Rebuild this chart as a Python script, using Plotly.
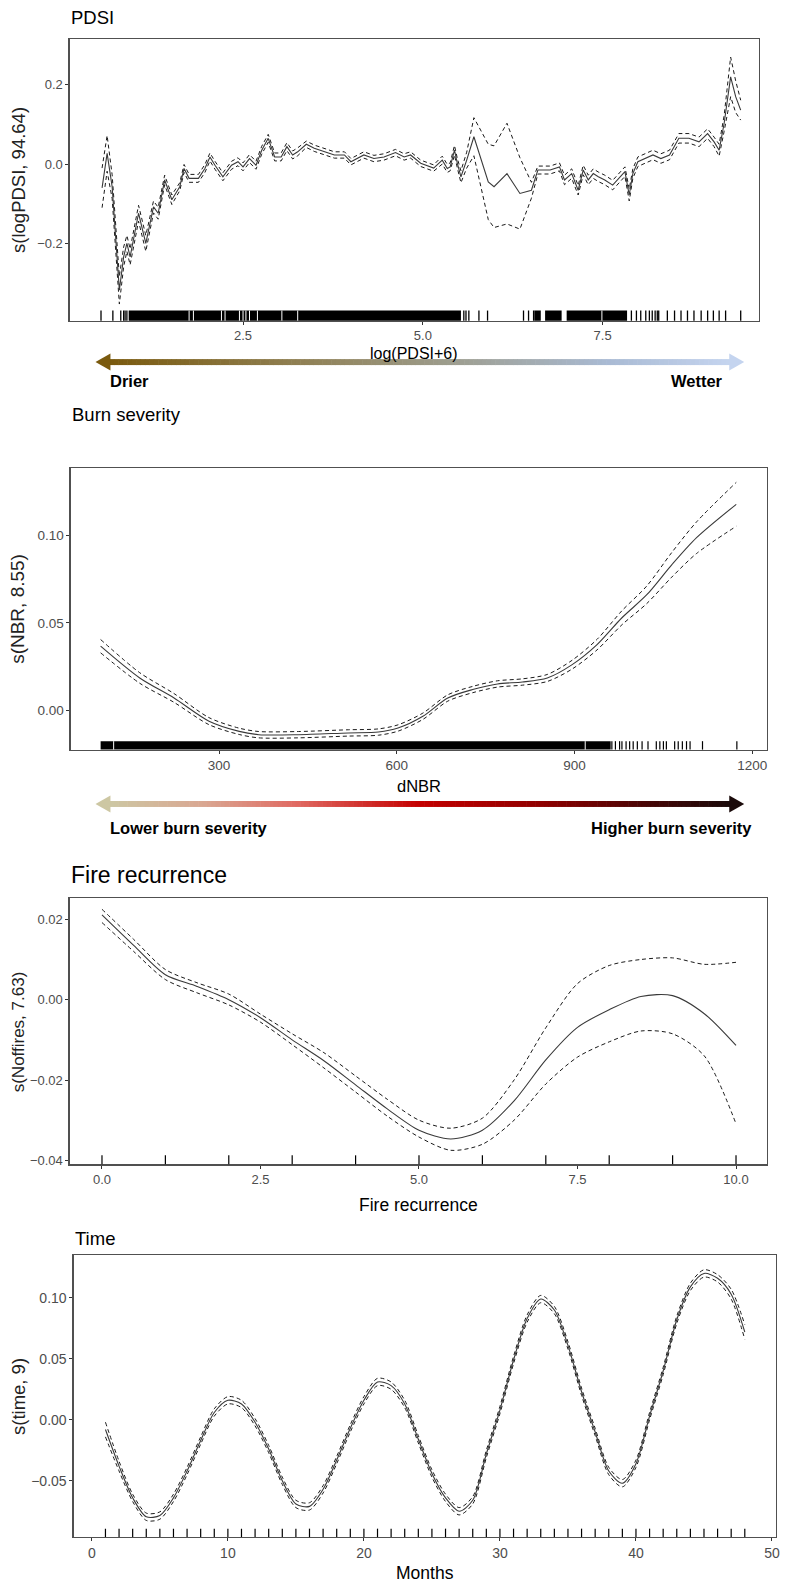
import plotly.graph_objects as go

W, H = 786, 1589

# ---------------- DATA ----------------
# Panel 1: PDSI
pdsi_x = [0.54, 0.61, 0.68, 0.72, 0.78, 0.84, 0.885, 0.93, 1.047, 1.148, 1.255, 1.32, 1.41, 1.51, 1.62,
          1.68, 1.75, 1.88, 1.97, 2.04, 2.11, 2.22, 2.34, 2.43, 2.50, 2.59, 2.68, 2.76, 2.85, 2.94,
          3.03, 3.11, 3.19, 3.26, 3.38, 3.49, 3.63, 3.77, 3.91, 4.00, 4.18, 4.32, 4.46, 4.62, 4.74,
          4.83, 4.97, 5.15, 5.27, 5.34, 5.38, 5.44, 5.48, 5.53, 5.61, 5.71, 5.91, 5.99, 6.17, 6.35,
          6.51, 6.60, 6.77, 6.90, 6.97, 7.07, 7.16, 7.23, 7.30, 7.37, 7.44, 7.53, 7.64, 7.74, 7.81,
          7.87, 7.92, 7.99, 8.10, 8.20, 8.31, 8.43, 8.56, 8.70, 8.84, 8.96, 9.05, 9.12, 9.19, 9.28,
          9.35, 9.42]
pdsi_fit = [-0.060, 0.027, -0.057, -0.166, -0.318, -0.234, -0.200, -0.234, -0.124, -0.200, -0.108, -0.124,
            -0.040, -0.090, -0.057, -0.011, -0.036, -0.036, -0.011, 0.018, -0.003, -0.032, -0.003, 0.006,
            -0.007, 0.014, -0.003, 0.035, 0.065, 0.018, 0.018, 0.044, 0.023, 0.031, 0.050, 0.040, 0.031,
            0.023, 0.023, 0.006, 0.023, 0.014, 0.018, 0.029, 0.018, 0.023, 0.002, -0.010, 0.010, -0.011,
            -0.007, 0.035, 0.002, -0.032, 0.010, 0.069, -0.045, -0.057, -0.024, -0.074, -0.066, -0.015,
            -0.015, -0.007, -0.040, -0.024, -0.066, -0.015, -0.040, -0.024, -0.032, -0.040, -0.053,
            -0.032, -0.019, -0.078, -0.024, 0.006, 0.014, 0.023, 0.014, 0.023, 0.065, 0.065, 0.056,
            0.077, 0.056, 0.035, 0.103, 0.220, 0.170, 0.136]
pdsi_ci = [0.050, 0.045, 0.030, 0.030, 0.035, 0.025, 0.020, 0.020, 0.020, 0.020, 0.015, 0.015, 0.012,
           0.012, 0.010, 0.010, 0.010, 0.010, 0.010, 0.010, 0.010, 0.010, 0.010, 0.010, 0.010, 0.010,
           0.010, 0.010, 0.010, 0.010, 0.010, 0.010, 0.010, 0.010, 0.008, 0.008, 0.008, 0.008, 0.008,
           0.008, 0.008, 0.008, 0.008, 0.008, 0.008, 0.008, 0.008, 0.008, 0.010, 0.010, 0.010, 0.012,
           0.012, 0.015, 0.020, 0.048, 0.095, 0.103, 0.127, 0.090, 0.020, 0.010, 0.010, 0.010, 0.012,
           0.012, 0.012, 0.012, 0.012, 0.012, 0.012, 0.012, 0.012, 0.012, 0.012, 0.015, 0.012, 0.012,
           0.012, 0.012, 0.012, 0.012, 0.012, 0.012, 0.012, 0.012, 0.012, 0.015, 0.020, 0.050, 0.040,
           0.025]
pdsi_rug_dense = [[0.91, 5.53], [6.55, 6.64], [6.70, 6.93], [7.00, 7.84]]
pdsi_rug_gaps = [1.75, 1.81, 2.20, 2.25, 2.45, 2.50, 2.54, 2.59, 2.70, 3.04, 3.26, 7.49]
pdsi_rug_ticks = [0.525, 0.69, 0.80, 0.84, 0.86, 0.885, 5.57, 5.60, 5.64, 5.78, 5.90, 6.40, 6.47, 6.54,
                  7.90, 7.97, 8.03, 8.10, 8.15, 8.19, 8.23, 8.26, 8.28, 8.40, 8.50, 8.59, 8.68, 8.77,
                  8.87, 8.96, 9.04, 9.12, 9.21, 9.42]

# Panel 2: Burn severity
nbr_x = [100, 166, 224, 283, 334, 367, 434, 518, 569, 602, 644, 686, 728, 770, 812, 854, 896, 938,
         980, 1022, 1064, 1106, 1173]
nbr_fit = [0.0367, 0.0186, 0.0072, -0.0060, -0.0118, -0.0137, -0.0137, -0.0127, -0.0122, -0.0099,
           -0.0032, 0.0072, 0.0120, 0.0152, 0.0163, 0.0186, 0.0262, 0.0376, 0.0529, 0.0660, 0.0830,
           0.0985, 0.1175]
nbr_ci = [0.0038, 0.0030, 0.0025, 0.0020, 0.0018, 0.0018, 0.0018, 0.0018, 0.0018, 0.0018, 0.0018,
          0.0018, 0.0018, 0.0018, 0.0018, 0.0020, 0.0025, 0.0030, 0.0040, 0.0050, 0.0070, 0.0090, 0.0125]
nbr_rug_dense = [[100, 961]]
nbr_rug_gaps = [122, 918]
nbr_rug_ticks = [963, 969, 976, 980, 987, 993, 999, 1006, 1014, 1024, 1038, 1044, 1050, 1055, 1069,
                 1075, 1082, 1089, 1095, 1116, 1174]

# Panel 3: Fire recurrence
fire_x = [0.0, 0.5, 1.0, 1.5, 2.0, 2.5, 3.0, 3.5, 4.0, 4.5, 5.0, 5.5, 6.0, 6.5, 7.0, 7.5, 8.0, 8.5,
          9.0, 9.5, 10.0]
fire_fit = [0.0211, 0.0135, 0.0062, 0.0033, 0.0000, -0.0045, -0.0100, -0.0152, -0.0212, -0.0272,
            -0.0325, -0.0347, -0.0325, -0.0252, -0.0150, -0.0069, -0.0025, 0.0008, 0.0010, -0.0035,
            -0.0114]
fire_upper = [0.0225, 0.0150, 0.0075, 0.0042, 0.0014, -0.0036, -0.0085, -0.0132, -0.0190, -0.0248,
              -0.0300, -0.0320, -0.0295, -0.0200, -0.0070, 0.0040, 0.0085, 0.0100, 0.0104, 0.0088,
              0.0093]
fire_lower = [0.0192, 0.0120, 0.0050, 0.0017, -0.0013, -0.0056, -0.0112, -0.0170, -0.0230, -0.0290,
              -0.0342, -0.0375, -0.0360, -0.0300, -0.0210, -0.0143, -0.0105, -0.0078, -0.0085, -0.0140,
              -0.0309]
fire_rug = [0, 1, 2, 3, 4, 5, 6, 7, 8, 9, 10]

# Panel 4: Time
months = list(range(1, 49))
time_fit = [-0.008, -0.038, -0.064, -0.0795, -0.0785, -0.064, -0.042, -0.017, 0.006, 0.016, 0.013, -0.002,
            -0.024, -0.050, -0.069, -0.071, -0.057, -0.033, -0.007, 0.016, 0.031, 0.028, 0.013, -0.016,
            -0.044, -0.064, -0.075, -0.066, -0.028, 0.008, 0.049, 0.083, 0.099, 0.090, 0.061, 0.023,
            -0.010, -0.042, -0.052, -0.036, 0.003, 0.040, 0.082, 0.109, 0.120, 0.116, 0.103, 0.072]
time_ci = [0.006, 0.004, 0.003, 0.003, 0.003, 0.003, 0.003, 0.003, 0.003, 0.003, 0.003, 0.003,
           0.003, 0.003, 0.003, 0.003, 0.003, 0.003, 0.003, 0.003, 0.003, 0.003, 0.003, 0.003,
           0.003, 0.003, 0.003, 0.003, 0.003, 0.003, 0.003, 0.003, 0.003, 0.003, 0.003, 0.003,
           0.003, 0.003, 0.003, 0.003, 0.003, 0.003, 0.003, 0.003, 0.003, 0.003, 0.004, 0.006]
time_rug = months

# ---------------- LAYOUT CONSTANTS ----------------
FONT = "Liberation Sans, Arial, sans-serif"
BOLD = "Liberation Sans, Arial, sans-serif"
panels = [
    dict(x0=70, x1=763, y0=39.5, y1=321.5, xr=[0.089, 9.676], yr=[-0.395, 0.3145],
         xt=[2.5, 5.0, 7.5], xfmt=".1f", yt=[-0.2, 0.0, 0.2], yfmt=".1f",
         title="PDSI", tsize=18.5, ty=18, xtitle="log(PDSI+6)", xsize=16, xty=354,
         ytitle="s(logPDSI, 94.64)", ysize=18.5, ticksize=13, rugh=0.036),
    dict(x0=71, x1=771, y0=469.5, y1=751.5, xr=[49.4, 1225], yr=[-0.0222, 0.138],
         xt=[300, 600, 900, 1200], xfmt="d", yt=[0.0, 0.05, 0.10], yfmt=".2f",
         title="Burn severity", tsize=18.5, ty=416, xtitle="dNBR", xsize=16.5, xty=788,
         ytitle="s(NBR, 8.55)", ysize=19, ticksize=13.5, rugh=0.03),
    dict(x0=70, x1=771, y0=900.7, y1=1167.3, xr=[-0.51, 10.49], yr=[-0.041, 0.0252],
         xt=[0.0, 2.5, 5.0, 7.5, 10.0], xfmt=".1f", yt=[-0.04, -0.02, 0.0, 0.02], yfmt=".2f",
         title="Fire recurrence", tsize=23, ty=877, xtitle="Fire recurrence", xsize=17.5, xty=1208,
         ytitle="s(Noffires, 7.63)", ysize=17, ticksize=13, rugh=0.034),
    dict(x0=74, x1=779.5, y0=1258.3, y1=1541, xr=[-1.34, 50.26], yr=[-0.0962, 0.135],
         xt=[0, 10, 20, 30, 40, 50], xfmt="d", yt=[-0.05, 0.0, 0.05, 0.10], yfmt=".2f",
         title="Time", tsize=18.5, ty=1242, xtitle="Months", xsize=17.5, xty=1577,
         ytitle="s(time, 9)", ysize=18.5, ticksize=14, rugh=0.03),
]


def xp(px):
    return px / W


def yp(py):
    return 1 - py / H


fig = go.Figure()
shapes = []
annotations = []
layout = {}

FIT = dict(color="#3a3a3a", width=1.1)
CI = dict(color="#1a1a1a", width=1, dash="4px,3px")


def add_panel(i, x, fit, upper, lower, smooth):
    k = "" if i == 0 else str(i + 1)
    xa, ya = "x" + k, "y" + k
    for ys, ln in ((upper, CI), (lower, CI), (fit, FIT)):
        line = dict(shape="spline", smoothing=0.8, **ln) if smooth else dict(shape="linear", **ln)
        fig.add_trace(go.Scatter(x=x, y=ys, mode="lines", xaxis=xa, yaxis=ya, line=line,
                                 showlegend=False, hoverinfo="skip"))


def add_rug(i, dense=(), gaps=(), ticks=(), h=0.03, width=1):
    k = "" if i == 0 else str(i + 1)
    xr, yr = "x" + k, "y" + k + " domain"
    for a, b in dense:
        shapes.append(dict(type="rect", xref=xr, yref=yr, x0=a, x1=b, y0=0, y1=h,
                           fillcolor="black", line=dict(width=0), layer="above"))
    for g in gaps:
        shapes.append(dict(type="line", xref=xr, yref=yr, x0=g, x1=g, y0=0, y1=h,
                           line=dict(color="white", width=1), layer="above"))
    for t in ticks:
        shapes.append(dict(type="line", xref=xr, yref=yr, x0=t, x1=t, y0=0, y1=h,
                           line=dict(color="black", width=width), layer="above"))


add_panel(0, pdsi_x, pdsi_fit, [f + c for f, c in zip(pdsi_fit, pdsi_ci)],
          [f - c for f, c in zip(pdsi_fit, pdsi_ci)], False)
add_panel(1, nbr_x, nbr_fit, [f + c for f, c in zip(nbr_fit, nbr_ci)],
          [f - c for f, c in zip(nbr_fit, nbr_ci)], True)
add_panel(2, fire_x, fire_fit, fire_upper, fire_lower, True)
add_panel(3, months, time_fit, [f + c for f, c in zip(time_fit, time_ci)],
          [f - c for f, c in zip(time_fit, time_ci)], True)

add_rug(0, pdsi_rug_dense, pdsi_rug_gaps, pdsi_rug_ticks, panels[0]["rugh"], 1.3)
add_rug(1, nbr_rug_dense, nbr_rug_gaps, nbr_rug_ticks, panels[1]["rugh"], 1.2)
add_rug(2, (), (), fire_rug, panels[2]["rugh"], 1.2)
add_rug(3, (), (), time_rug, panels[3]["rugh"], 1.2)

for i, p in enumerate(panels):
    k = "" if i == 0 else str(i + 1)
    common = dict(showline=True, mirror=True, linecolor="#505050", linewidth=1.2, ticks="outside",
                  ticklen=3, tickwidth=1, tickcolor="#333333", showgrid=False, zeroline=False,
                  ticklabelstandoff=0,
                  tickfont=dict(family=FONT, size=p["ticksize"], color="#4d4d4d"), fixedrange=True)
    layout["xaxis" + k] = dict(domain=[xp(p["x0"]), xp(p["x1"])], range=p["xr"], anchor="y" + k,
                               tickvals=p["xt"], tickformat=p["xfmt"], **common)
    layout["yaxis" + k] = dict(domain=[yp(p["y1"]), yp(p["y0"])], range=p["yr"], anchor="x" + k,
                               tickvals=p["yt"], tickformat=p["yfmt"], **common)
    annotations.append(dict(text=p["title"], x=xp(p["x0"] - 1), y=yp(p["ty"]), xref="paper", yref="paper",
                            xanchor="left", yanchor="middle", showarrow=False,
                            font=dict(family=FONT, size=p["tsize"], color="black")))
    annotations.append(dict(text=p["xtitle"], x=xp((p["x0"] + p["x1"]) / 2), y=yp(p["xty"]),
                            xref="paper", yref="paper", xanchor="center", yanchor="middle",
                            showarrow=False, font=dict(family=FONT, size=p["xsize"], color="black")))
    annotations.append(dict(text=p["ytitle"], x=xp(18), y=yp((p["y0"] + p["y1"]) / 2),
                            xref="paper", yref="paper", xanchor="center", yanchor="middle",
                            textangle=-90, showarrow=False,
                            font=dict(family=FONT, size=p["ysize"], color="#222")))


# ---------------- gradient arrows ----------------
def hex2rgb(h):
    h = h.lstrip("#")
    return tuple(int(h[j:j + 2], 16) for j in (0, 2, 4))


def grad(stops, t):
    for (t0, c0), (t1, c1) in zip(stops[:-1], stops[1:]):
        if t0 <= t <= t1:
            a, b = hex2rgb(c0), hex2rgb(c1)
            f = (t - t0) / (t1 - t0) if t1 > t0 else 0
            return "rgb(%d,%d,%d)" % tuple(round(a[j] + (b[j] - a[j]) * f) for j in range(3))
    return stops[-1][1]


def arrow(xl, xr, yc, stops, n=140, thick=6, head_len=15, head_h=17):
    bx0, bx1 = xl + head_len - 1, xr - head_len + 1
    for j in range(n):
        a = bx0 + (bx1 - bx0) * j / n
        b = bx0 + (bx1 - bx0) * (j + 1) / n
        c = grad(stops, (j + 0.5) / n)
        shapes.append(dict(type="rect", xref="paper", yref="paper", x0=xp(a), x1=xp(b + 0.6),
                           y0=yp(yc + thick / 2), y1=yp(yc - thick / 2), fillcolor=c,
                           line=dict(width=0), layer="above"))
    lc, rc = stops[0][1], stops[-1][1]
    shapes.append(dict(type="path", xref="paper", yref="paper", layer="above",
                       path="M %f %f L %f %f L %f %f Z" % (xp(xl), yp(yc), xp(xl + head_len), yp(yc - head_h / 2),
                                                          xp(xl + head_len), yp(yc + head_h / 2)),
                       fillcolor=lc, line=dict(width=0)))
    shapes.append(dict(type="path", xref="paper", yref="paper", layer="above",
                       path="M %f %f L %f %f L %f %f Z" % (xp(xr), yp(yc), xp(xr - head_len), yp(yc - head_h / 2),
                                                          xp(xr - head_len), yp(yc + head_h / 2)),
                       fillcolor=rc, line=dict(width=0)))


arrow(96, 748, 363, [(0.0, "#7a5a0e"), (0.3, "#8f7f52"), (0.55, "#9d9d8e"), (0.8, "#a9bad3"),
                     (1.0, "#c4d4ef")])
arrow(96, 748, 806, [(0.0, "#cdc7a3"), (0.15, "#d9a792"), (0.3, "#e06a62"), (0.5, "#c40000"),
                     (0.7, "#8e0000"), (0.88, "#420606"), (1.0, "#1a0a0a")])

for txt, x, y, anc in (("Drier", 109, 382, "left"), ("Wetter", 729, 382, "right"),
                       ("Lower burn severity", 109, 830, "left"),
                       ("Higher burn severity", 758, 830, "right")):
    annotations.append(dict(text="<b>%s</b>" % txt, x=xp(x), y=yp(y), xref="paper", yref="paper",
                            xanchor=anc, yanchor="middle", showarrow=False,
                            font=dict(family=BOLD, size=16.5, color="black")))

fig.update_layout(width=W, height=H, margin=dict(l=0, r=0, t=0, b=0), plot_bgcolor="white",
                  paper_bgcolor="white", shapes=shapes, annotations=annotations, showlegend=False,
                  **layout)
fig.write_html("out.html", config={"displayModeBar": False, "staticPlot": True},
               post_script="document.body.style.margin='0px';document.body.style.padding='0px';"
                           "document.body.style.overflow='hidden';")
